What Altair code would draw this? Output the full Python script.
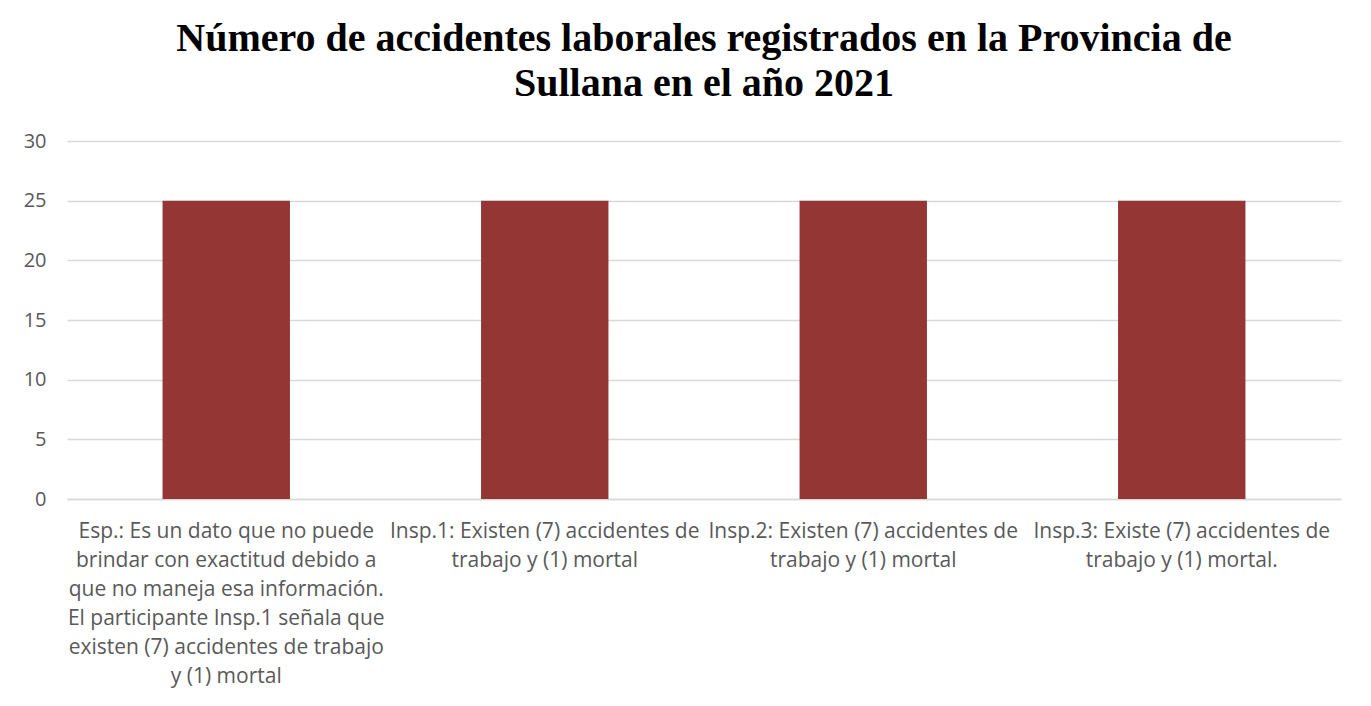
import altair as alt
import pandas as pd

categories = [
    "Esp.: Es un dato que no puede\nbrindar con exactitud debido a\nque no maneja esa información.\nEl participante Insp.1 señala que\nexisten (7) accidentes de trabajo\ny (1) mortal",
    "Insp.1: Existen (7) accidentes de\ntrabajo y (1) mortal",
    "Insp.2: Existen (7) accidentes de\ntrabajo y (1) mortal",
    "Insp.3: Existe (7) accidentes de\ntrabajo y (1) mortal.",
]
values = [25, 25, 25, 25]
y_ticks = [0, 5, 10, 15, 20, 25, 30]

df = pd.DataFrame({"cat": categories, "val": values})

label_font = "Open Sans"
grey = "#595959"

chart = alt.Chart(df).mark_bar(color="#943634").encode(
    x=alt.X(
        "cat:N",
        sort=categories,
        title=None,
        scale=alt.Scale(paddingInner=0.6, paddingOuter=0.3),
        axis=alt.Axis(
            labelAngle=0,
            labelExpr="split(datum.label, '\\n')",
            labelFont=label_font,
            labelFontSize=21,
            labelColor=grey,
            labelLineHeight=29,
            labelPadding=21,
            labelLimit=400,
            ticks=False,
            domainColor="#d9d9d9",
            domainWidth=1.5,
            grid=False,
        ),
    ),
    y=alt.Y(
        "val:Q",
        title=None,
        scale=alt.Scale(domain=[0, 30]),
        axis=alt.Axis(
            values=y_ticks,
            labelFont=label_font,
            labelFontSize=20,
            labelColor=grey,
            labelPadding=21,
            ticks=False,
            domain=False,
            gridColor="#d9d9d9",
            gridWidth=1.5,
        ),
    ),
).properties(
    width=1274,
    height=358,
    title=alt.TitleParams(
        text=[
            "Número de accidentes laborales registrados en la Provincia de",
            "Sullana en el año 2021",
        ],
        font="Liberation Serif",
        fontSize=40,
        fontWeight="bold",
        color="#000000",
        anchor="middle",
        lineHeight=45,
        offset=27,
    ),
    autosize=alt.AutoSizeParams(type="none"),
    padding={"left": 59, "top": 133, "right": 20, "bottom": 190},
).configure_view(stroke=None)

chart.save("out.html", embed_options={"renderer": "svg", "actions": False})
